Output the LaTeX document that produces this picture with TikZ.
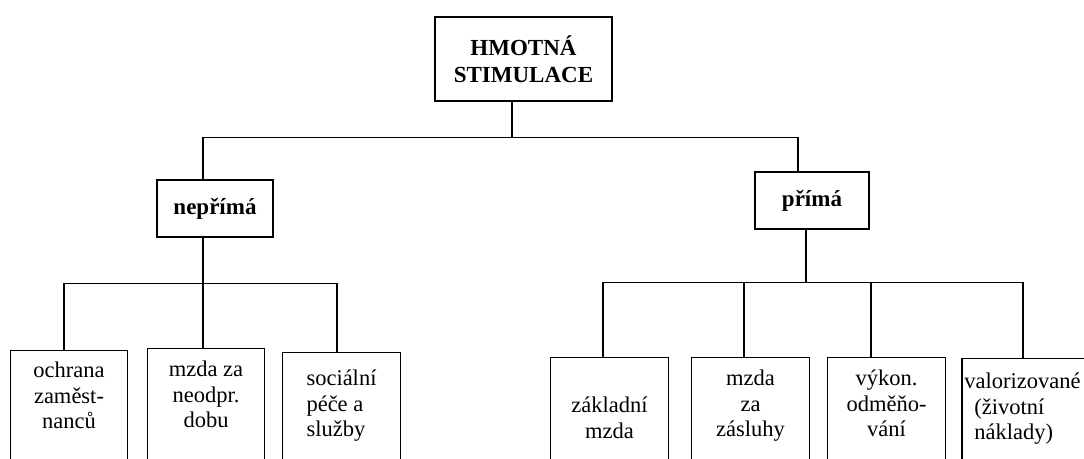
\documentclass[tikz,border=0pt]{standalone}
\usepackage{fontspec}
\setmainfont{Liberation Serif}

\newcommand{\rows}[2][c]{\begin{tabular}[t]{@{}#1@{}}#2\end{tabular}}

\begin{document}
\begin{tikzpicture}[x=1pt, y=-1pt, line width=1.2pt,
  font=\fontsize{22.5}{25.5}\selectfont,
  box/.style={draw, inner sep=0pt, minimum width=#1},
  head/.style={box=#1, align=center, font=\fontsize{23}{27}\selectfont\bfseries},
  leaf/.style={box=117.5pt, anchor=north, text height=#1, text depth=140pt}]
  \useasboundingbox[fill=white] (0,0) rectangle (1084,458);
  \clip (0,0) rectangle (1084,458);

  \node[head=177pt, minimum height=84pt] (top) at (523.5,59) {HMOTNÁ\\STIMULACE};
  \node[head=116pt, minimum height=57pt] (nepr) at (215,208.5) {nepřímá};
  \node[head=114pt, minimum height=57pt] (prim) at (812,200.5) {přímá};

  % leaves run past the lower edge, as in the scan
  \node[leaf=27pt] (ochrana) at (69,350) {\rows{ochrana\\zaměst-\\nanců}};
  \node[leaf=28pt] (neodpr) at (206,348) {\rows{mzda za\\neodpr.\\dobu}};
  \node[leaf=33pt] (socialni) at (341.5,352) {\rows[l]{sociální\\péče a\\služby}};
  \node[leaf=55pt] (zakladni) at (609.5,357) {\rows{základní\\mzda}};
  \node[leaf=28pt] (zasluhy) at (750.5,357) {\rows{mzda\\za\\zásluhy}};
  \node[leaf=28pt] (vykon) at (886.5,357) {\rows{výkon.\\odměňo-\\vání}};
  \node[leaf=30pt, minimum width=140pt] (valoriz) at (1032,358)
    {\begin{tabular}[t]{@{}l@{\hspace{19pt}}}valorizované\\
      \hspace*{10pt}(životní\\\hspace*{10pt}náklady)\end{tabular}};

  \draw ([xshift=-11.5pt]top.south) -- ++(0,36) coordinate (split)
    -| ([xshift=-12pt]nepr.north);
  \draw (split) -| ([xshift=-14pt]prim.north);

  \draw ([xshift=-12pt]nepr.south) -- ++(0,46) coordinate (lsplit)
    -| ([xshift=-5pt]ochrana.north);
  \draw (lsplit) -- ([xshift=-3pt]neodpr.north);
  \draw (lsplit) -| ([xshift=-4.5pt]socialni.north);

  \draw ([xshift=-6pt]prim.south) -- ++(0,53) coordinate (rsplit)
    -| ([xshift=-6.5pt]zakladni.north);
  \draw (rsplit) -| ([xshift=-6.5pt]zasluhy.north);
  \draw (rsplit) -| ([xshift=-15.5pt]vykon.north);
  \draw (rsplit) -| ([xshift=-9pt]valoriz.north);
\end{tikzpicture}
\end{document}
